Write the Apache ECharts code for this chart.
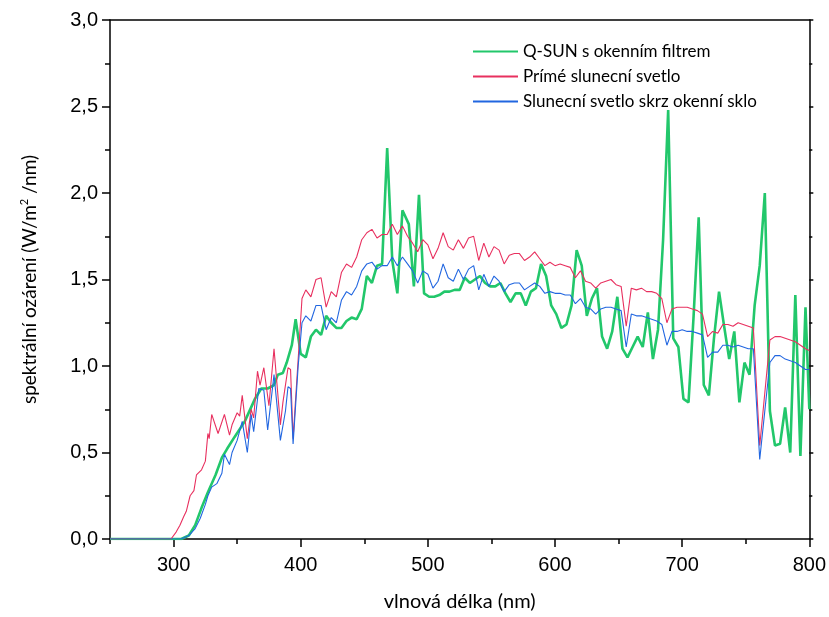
<!DOCTYPE html>
<html>
<head>
<meta charset="utf-8">
<script src="https://cdn.jsdelivr.net/npm/echarts@6/dist/echarts.min.js"></script>
<style>
  html, body { margin: 0; padding: 0; background: #fff; }
  #chart { width: 829px; height: 617px; }
</style>
</head>
<body>
<div id="chart"></div>
<script>
// legend names (as printed on the chart)
var seriesNames = ['Q-SUN s okenním filtrem', 'Prímé slunecní svetlo', 'Slunecní svetlo skrz okenní sklo'];

// Q-SUN with window filter
var wlQsun = [250, 306, 312, 317, 322, 327, 333, 338, 342, 348, 356, 364, 369, 374, 379, 382, 386, 389, 393, 396,
  400, 404, 408, 412, 416, 420, 424, 428, 432, 436, 440, 444, 448, 452, 456, 460, 464, 468, 472, 476,
  480, 485, 489, 493, 497, 501, 505, 509, 513, 517, 521, 525, 529, 533, 537, 541, 545, 549, 553, 557,
  561, 565, 569, 573, 577, 581, 585, 589, 593, 597, 601, 605, 609, 613, 617, 621, 625, 629, 633, 637,
  641, 645, 649, 653, 657, 661, 665, 669, 673, 677, 681, 685, 689, 693, 697, 701, 705, 709, 713, 717,
  721, 725, 729, 733, 737, 741, 745, 749, 753, 757, 761, 765, 769, 773, 777, 781, 785, 789, 793, 797, 800];
var qsun = [0, 0, 0.02, 0.08, 0.18, 0.27, 0.37, 0.47, 0.52, 0.59, 0.68, 0.81, 0.87, 0.87, 0.89, 0.95, 0.96, 1.02, 1.12, 1.27,
  1.07, 1.05, 1.17, 1.21, 1.18, 1.29, 1.25, 1.22, 1.22, 1.26, 1.28, 1.27, 1.33, 1.52, 1.48, 1.58, 1.59, 2.26, 1.61, 1.42,
  1.90, 1.82, 1.46, 1.99, 1.42, 1.40, 1.40, 1.41, 1.43, 1.43, 1.44, 1.44, 1.51, 1.48, 1.50, 1.52, 1.48, 1.46, 1.46, 1.48,
  1.42, 1.37, 1.42, 1.42, 1.35, 1.43, 1.45, 1.59, 1.52, 1.35, 1.30, 1.22, 1.24, 1.35, 1.67, 1.58, 1.29, 1.39, 1.45, 1.17,
  1.10, 1.20, 1.40, 1.10, 1.05, 1.11, 1.17, 1.11, 1.31, 1.04, 1.21, 1.73, 2.48, 1.16, 1.11, 0.81, 0.79, 1.29, 1.86, 0.89,
  0.83, 1.16, 1.43, 1.23, 1.04, 1.20, 0.79, 1.02, 0.95, 1.35, 1.58, 2.00, 0.74, 0.54, 0.55, 0.76, 0.50, 1.41, 0.48, 1.34, 0.75];

// direct sunlight
var wlDirect = [250, 298, 302, 305, 308, 310, 313, 316, 318, 322, 325, 327, 328, 330, 335, 340, 344, 346, 350, 352,
  354, 358, 361, 363, 366, 368, 371, 375, 379, 384, 386, 390, 392, 394, 398, 401,
  404, 408, 412, 416, 420, 424, 428, 432, 436, 440, 444, 448, 452, 456, 460, 464, 468, 472, 476, 480,
  484, 488, 492, 496, 500, 504, 508, 512, 516, 520, 524, 528, 532, 536, 540, 544, 548, 552, 556, 560,
  564, 568, 572, 576, 580, 584, 588, 592, 596, 600, 604, 608, 612, 616, 620, 624, 628, 632, 636, 640,
  644, 648, 652, 656, 660, 664, 668, 672, 676, 680, 684, 688, 692, 696, 700, 704, 708, 712, 716, 720,
  724, 728, 732, 736, 740, 744, 748, 752, 756, 761, 769, 773, 777, 781, 785, 789, 793, 797, 800];
var direct = [0, 0, 0.04, 0.08, 0.13, 0.16, 0.25, 0.28, 0.37, 0.40, 0.45, 0.61, 0.58, 0.72, 0.61, 0.72, 0.60, 0.66, 0.73, 0.71,
  0.83, 0.58, 0.75, 0.70, 0.97, 0.89, 0.99, 0.77, 1.10, 0.66, 0.79, 0.99, 0.98, 0.58, 1.04, 1.39,
  1.44, 1.40, 1.50, 1.51, 1.34, 1.43, 1.40, 1.54, 1.59, 1.57, 1.63, 1.73, 1.77, 1.79, 1.74, 1.76, 1.76, 1.82, 1.76, 1.81,
  1.75, 1.71, 1.66, 1.73, 1.70, 1.62, 1.68, 1.77, 1.69, 1.67, 1.73, 1.68, 1.74, 1.75, 1.61, 1.71, 1.63, 1.69, 1.67, 1.59,
  1.64, 1.65, 1.65, 1.61, 1.63, 1.66, 1.62, 1.58, 1.60, 1.58, 1.59, 1.58, 1.57, 1.51, 1.55, 1.49, 1.48, 1.45, 1.48, 1.49,
  1.50, 1.47, 1.46, 1.23, 1.45, 1.44, 1.45, 1.43, 1.43, 1.42, 1.39, 1.25, 1.33, 1.34, 1.34, 1.34, 1.33, 1.32, 1.30, 1.17,
  1.20, 1.19, 1.24, 1.24, 1.23, 1.25, 1.24, 1.23, 1.22, 0.54, 1.15, 1.17, 1.17, 1.16, 1.15, 1.14, 1.12, 1.10, 1.09];

// sunlight through window glass
var wlGlass = [250, 306, 312, 317, 321, 325, 327, 330, 334, 338, 340, 344, 346, 350, 354, 358, 361, 363, 367, 371,
  374, 379, 384, 388, 390, 392, 394, 398, 401,
  404, 408, 412, 416, 420, 424, 428, 432, 436, 440, 444, 448, 452, 456, 460, 464, 468, 472, 476, 480,
  484, 488, 492, 496, 500, 504, 508, 512, 516, 520, 524, 528, 532, 536, 540, 544, 548, 552, 556, 560,
  564, 568, 572, 576, 580, 584, 588, 592, 596, 600, 604, 608, 612, 616, 620, 624, 628, 632, 636, 640,
  644, 648, 652, 656, 660, 664, 668, 672, 676, 680, 684, 688, 692, 696, 700, 704, 708, 712, 716, 720,
  724, 728, 732, 736, 740, 744, 748, 752, 756, 761, 769, 773, 777, 781, 785, 789, 793, 797, 800];
var glass = [0, 0, 0.02, 0.06, 0.12, 0.20, 0.25, 0.30, 0.32, 0.38, 0.49, 0.43, 0.50, 0.57, 0.68, 0.50, 0.72, 0.62, 0.87, 0.86,
  0.63, 0.95, 0.57, 0.74, 0.88, 0.87, 0.55, 1.00, 1.25,
  1.29, 1.26, 1.35, 1.35, 1.21, 1.28, 1.25, 1.38, 1.43, 1.41, 1.46, 1.55, 1.59, 1.60, 1.56, 1.58, 1.58, 1.63, 1.58, 1.63,
  1.59, 1.55, 1.48, 1.55, 1.53, 1.45, 1.49, 1.59, 1.51, 1.49, 1.56, 1.50, 1.56, 1.58, 1.44, 1.53, 1.46, 1.52, 1.49, 1.43,
  1.47, 1.48, 1.48, 1.44, 1.46, 1.48, 1.46, 1.42, 1.43, 1.42, 1.42, 1.41, 1.41, 1.36, 1.39, 1.34, 1.33, 1.30, 1.33, 1.34,
  1.34, 1.33, 1.32, 1.11, 1.30, 1.29, 1.29, 1.28, 1.27, 1.26, 1.24, 1.12, 1.20, 1.20, 1.21, 1.20, 1.20, 1.19, 1.18, 1.05,
  1.08, 1.08, 1.12, 1.12, 1.11, 1.12, 1.11, 1.10, 1.10, 0.46, 1.02, 1.06, 1.06, 1.04, 1.03, 1.02, 1.00, 0.98, 0.98];

// tick labels on the x axis
var xLabels = [300, 400, 500, 600, 700, 800];

function pairs(xs, ys) {
  var out = [];
  for (var i = 0; i < xs.length; i++) {
    out.push([xs[i], ys[i]]);
  }
  return out;
}

var chart = echarts.init(document.getElementById('chart'));

var tickFont = '"Liberation Sans Narrow", "Liberation Sans", Arial, sans-serif';
var textFont = 'Lato, "Noto Sans", sans-serif';
var axisColor = '#000';

var option = {
  animation: false,
  backgroundColor: '#fff',
  color: ['#22c76b', '#e8305f', '#2166e0'],
  grid: { left: 110, right: 17, top: 20, bottom: 76 },
  legend: {
    orient: 'vertical',
    left: 468,
    top: 38,
    itemWidth: 45,
    itemHeight: 2,
    itemGap: 8,
    icon: 'rect',
    textStyle: { fontFamily: textFont, fontSize: 17, color: '#000' },
    data: seriesNames
  },
  xAxis: [{
    type: 'value',
    min: 250,
    max: 800,
    interval: 50,
    name: 'vlnová délka (nm)',
    nameLocation: 'middle',
    nameGap: 53,
    nameTextStyle: { fontFamily: textFont, fontSize: 20, color: '#000' },
    axisLine: { lineStyle: { color: axisColor, width: 1.5 } },
    axisTick: { show: true, inside: false, length: 5, lineStyle: { color: axisColor, width: 1.5 } },
    axisLabel: {
      customValues: xLabels,
      margin: 16,
      fontFamily: tickFont,
      fontSize: 20,
      color: '#000'
    },
    splitLine: { show: false }
  }, {
    // major ticks every 100 nm
    type: 'value',
    position: 'bottom',
    min: 250,
    max: 800,
    interval: 50,
    axisLine: { show: false },
    axisTick: { show: true, length: 8, customValues: xLabels, lineStyle: { color: axisColor, width: 1.5 } },
    axisLabel: { show: false },
    splitLine: { show: false }
  }, {
    // frame on top
    type: 'value',
    position: 'top',
    min: 250,
    max: 800,
    interval: 50,
    axisLine: { show: true, lineStyle: { color: axisColor, width: 1.5 } },
    axisTick: { show: false },
    axisLabel: { show: false },
    splitLine: { show: false }
  }],
  yAxis: [{
    type: 'value',
    min: 0,
    max: 3,
    interval: 0.5,
    name: 'spektrální ozárení (W/m{sup|2} /nm)',
    nameLocation: 'middle',
    nameGap: 70,
    nameTextStyle: {
      fontFamily: textFont,
      fontSize: 19,
      color: '#000',
      rich: {
        sup: { fontFamily: textFont, fontSize: 11, color: '#000', verticalAlign: 'top', padding: [0, 0, 10, 0] }
      }
    },
    axisLine: { show: true, lineStyle: { color: axisColor, width: 1.5 } },
    axisTick: { show: true, length: 8, lineStyle: { color: axisColor, width: 1.5 } },
    minorTick: { show: true, splitNumber: 2, length: 5, lineStyle: { color: axisColor, width: 1.5 } },
    axisLabel: {
      margin: 12,
      fontFamily: tickFont,
      fontSize: 20,
      color: '#000',
      formatter: function (v) { return v.toFixed(1).replace('.', ','); }
    },
    splitLine: { show: false }
  }, {
    type: 'value',
    position: 'right',
    min: 0,
    max: 3,
    interval: 0.5,
    axisLine: { show: true, lineStyle: { color: axisColor, width: 1.5 } },
    axisTick: { show: true, length: 4, lineStyle: { color: axisColor, width: 1.5 } },
    minorTick: { show: true, splitNumber: 2, length: 3, lineStyle: { color: axisColor, width: 1.5 } },
    axisLabel: { show: false },
    splitLine: { show: false }
  }],
  series: [{
    name: seriesNames[0],
    type: 'line',
    showSymbol: false,
    lineStyle: { width: 2.6, color: '#22c76b' },
    itemStyle: { color: '#22c76b' },
    data: pairs(wlQsun, qsun)
  }, {
    name: seriesNames[1],
    type: 'line',
    showSymbol: false,
    lineStyle: { width: 1.1, color: '#e8305f' },
    itemStyle: { color: '#e8305f' },
    data: pairs(wlDirect, direct)
  }, {
    name: seriesNames[2],
    type: 'line',
    showSymbol: false,
    lineStyle: { width: 1.1, color: '#2166e0' },
    itemStyle: { color: '#2166e0' },
    data: pairs(wlGlass, glass)
  }]
};

chart.setOption(option);
</script>
</body>
</html>
